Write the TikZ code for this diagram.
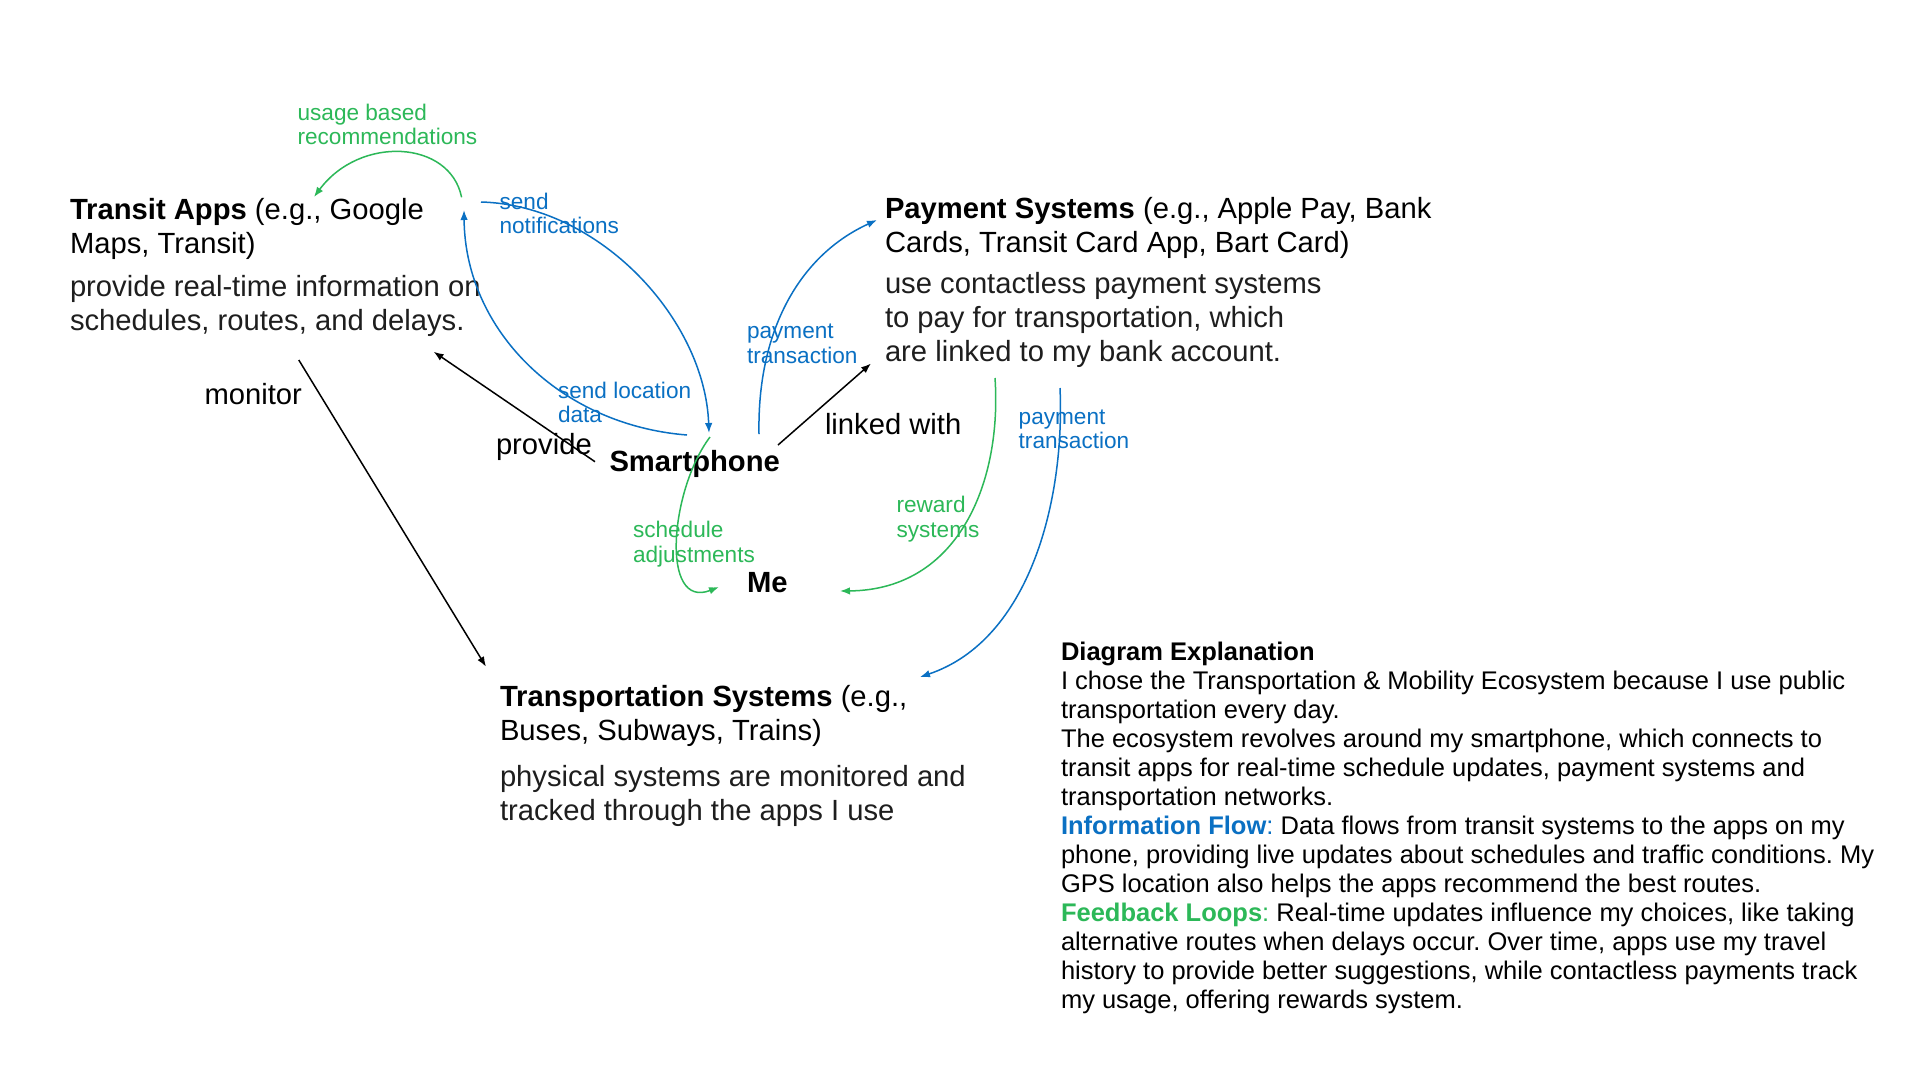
\documentclass[tikz,border=0pt]{standalone}
\usepackage{fontspec}
\setmainfont{Liberation Sans}
\usetikzlibrary{arrows.meta}
\definecolor{flowblue}{RGB}{10,112,195}
\definecolor{loopgreen}{RGB}{44,184,88}
\definecolor{desctext}{RGB}{30,30,30}
\newcommand{\strutbig}{\rule{0pt}{24pt}}
\newcommand{\strutlbl}{\rule{0pt}{18pt}}
\newcommand{\strutexp}{\rule{0pt}{21pt}}
\frenchspacing
\begin{document}
\begin{tikzpicture}[x=1pt,y=-1pt,
  every node/.style={inner sep=0pt,outer sep=0pt},
  bigtxt/.style={anchor=north west,align=left,font=\fontsize{29.2pt}{34pt}\selectfont},
  word/.style={anchor=base west,font=\fontsize{29.2pt}{34pt}\selectfont},
  lbl/.style={anchor=north west,align=left,font=\fontsize{22.6pt}{24.5pt}\selectfont},
  expl/.style={anchor=north west,align=left,font=\fontsize{25.5pt}{29pt}\selectfont},
  conn/.style={line width=1.5pt,-{Latex[length=10pt,width=7.5pt]}},
]
\fill[white] (0,0) rectangle (1920,1080);
\useasboundingbox (0,0) rectangle (1920,1080);

% main blocks
\node[bigtxt] (apps) at (70,195) {\strutbig\textbf{Transit Apps} (e.g., Google\\Maps, Transit)\\[9pt]\textcolor{desctext}{provide real-time information on}\\\textcolor{desctext}{schedules, routes, and delays.}};
\node[bigtxt] (pay) at (885,194) {\strutbig\textbf{Payment Systems} (e.g., Apple Pay, Bank\\Cards, Transit Card App, Bart Card)\\[7pt]\textcolor{desctext}{use contactless payment systems}\\\textcolor{desctext}{to pay for transportation, which}\\\textcolor{desctext}{are linked to my bank account.}};
\node[bigtxt] (trans) at (500,682) {\strutbig\textbf{Transportation Systems} (e.g.,\\Buses, Subways, Trains)\\[12pt]\textcolor{desctext}{physical systems are monitored and}\\\textcolor{desctext}{tracked through the apps I use}};
\node[word] (phone) at (609.5,471.5) {\textbf{Smartphone}};
\node[word] (me) at (747,592.5) {\textbf{Me}};

% black labels
\node[word] (monitor) at (204.5,404) {monitor};
\node[word] (provide) at (496,454) {provide};
\node[word] (linked) at (825,434) {linked with};

% coloured labels
\node[lbl,text=loopgreen] (usage) at (297.6,102) {\strutlbl usage based\\recommendations};
\node[lbl,text=flowblue] (notif) at (499.6,191) {\strutlbl send\\notifications};
\node[lbl,text=flowblue] (payl) at (747,320.5) {\strutlbl payment\\transaction};
\node[lbl,text=flowblue] (loc) at (558,380) {\strutlbl send location\\data};
\node[lbl,text=loopgreen] (sched) at (633,519.7) {\strutlbl schedule\\adjustments};
\node[lbl,text=loopgreen] (reward) at (896.5,494.7) {\strutlbl reward\\systems};
\node[lbl,text=flowblue] (payr) at (1018.7,406) {\strutlbl payment\\transaction};

% explanation
\node[expl] (expl) at (1061,639) {\strutexp\textbf{Diagram Explanation}\\
I chose the Transportation \& Mobility Ecosystem because I use public\\
transportation every day.\\
The ecosystem revolves around my smartphone, which connects to\\
transit apps for real-time schedule updates, payment systems and\\
transportation networks.\\
\textcolor{flowblue}{\textbf{Information Flow}:} Data flows from transit systems to the apps on my\\
phone, providing live updates about schedules and traffic conditions. My\\
GPS location also helps the apps recommend the best routes.\\
\textcolor{loopgreen}{\textbf{Feedback Loops}:} Real-time updates influence my choices, like taking\\
alternative routes when delays occur. Over time, apps use my travel\\
history to provide better suggestions, while contactless payments track\\
my usage, offering rewards system.};

% connector end points
\coordinate (u0) at (461.6,197.3); \coordinate (u1) at (314,197);
\coordinate (n0) at (481,202);     \coordinate (n1) at (709,433);
\coordinate (l0) at (687,435);     \coordinate (l1) at (464,210);
\coordinate (p0) at (759,434);     \coordinate (p1) at (877,220);
\coordinate (k0) at (778,445);     \coordinate (k1) at (871,363.5);
\coordinate (v0) at (595,461.7);   \coordinate (v1) at (433.6,351.7);
\coordinate (m0) at (298.8,360);   \coordinate (m1) at (486,666.7);
\coordinate (s0) at (710,437);     \coordinate (s1) at (719,587);
\coordinate (r0) at (995,378);     \coordinate (r1) at (840,591);
\coordinate (q0) at (1060,388);    \coordinate (q1) at (920,677);

% connectors
\draw[conn,loopgreen] (u0) .. controls (450,140) and (360,135) .. (u1);
\draw[conn,flowblue] (n0) .. controls (600,205) and (705,320) .. (n1);
\draw[conn,flowblue] (l0) .. controls (560,425) and (465,330) .. (l1);
\draw[conn,flowblue] (p0) .. controls (757,330) and (800,255) .. (p1);
\draw[conn,black] (k0) -- (k1);
\draw[conn,black] (v0) -- (v1);
\draw[conn,black] (m0) -- (m1);
\draw[conn,loopgreen] (s0) .. controls (670,490) and (660,610) .. (s1);
\draw[conn,loopgreen] (r0) .. controls (1002,480) and (960,590) .. (r1);
\draw[conn,flowblue] (q0) .. controls (1065,500) and (1030,640) .. (q1);
\end{tikzpicture}
\end{document}
